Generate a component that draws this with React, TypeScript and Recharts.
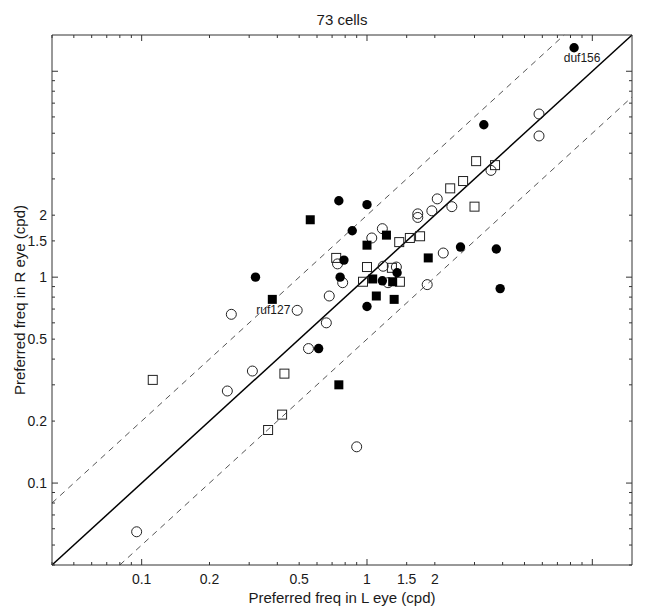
import React from 'react';
import { ScatterChart, Scatter, XAxis, YAxis, ReferenceLine } from 'recharts';

const AXIS_MIN = 0.04;
const AXIS_MAX = 15;
const AXIS_TICKS = [
  0.04, 0.05, 0.06, 0.07, 0.08, 0.09, 0.1, 0.2, 0.3, 0.4, 0.5, 0.6, 0.7, 0.8, 0.9,
  1, 1.5, 2, 3, 4, 5, 6, 7, 8, 9, 10,
];
const MAJOR_TICKS = [0.1, 1, 10];
const LABELLED_TICKS = [0.1, 0.2, 0.5, 1, 1.5, 2];

interface Cell {
  x: number;
  y: number;
  label?: string;
}

// preferred spatial frequency, L eye (x) vs R eye (y), cpd
const openCircles: Cell[] = [
  { x: 0.095, y: 0.058 }, { x: 0.25, y: 0.66 }, { x: 0.31, y: 0.35 }, { x: 0.24, y: 0.28 },
  { x: 0.49, y: 0.69 }, { x: 0.68, y: 0.81 }, { x: 0.66, y: 0.6 }, { x: 0.55, y: 0.45 },
  { x: 0.74, y: 1.16 }, { x: 0.78, y: 0.94 }, { x: 1.18, y: 1.13 }, { x: 1.35, y: 1.12 },
  { x: 1.24, y: 0.94 }, { x: 1.85, y: 0.92 }, { x: 0.9, y: 0.15 }, { x: 1.05, y: 1.55 },
  { x: 1.17, y: 1.72 }, { x: 1.68, y: 2.03 }, { x: 1.68, y: 1.95 }, { x: 1.94, y: 2.1 },
  { x: 2.05, y: 2.4 }, { x: 2.38, y: 2.2 }, { x: 2.18, y: 1.31 }, { x: 3.55, y: 3.3 },
  { x: 5.8, y: 6.2 }, { x: 5.8, y: 4.85 },
];

const filledCircles: Cell[] = [
  { x: 8.3, y: 13, label: 'duf156' }, { x: 3.3, y: 5.5 }, { x: 0.75, y: 2.35 },
  { x: 1.0, y: 2.25 }, { x: 0.86, y: 1.68 }, { x: 0.79, y: 1.21 }, { x: 0.32, y: 1.0 },
  { x: 0.76, y: 1.0 }, { x: 1.17, y: 0.96 }, { x: 1.36, y: 1.05 }, { x: 1.0, y: 0.72 },
  { x: 0.61, y: 0.45 }, { x: 2.6, y: 1.4 }, { x: 3.75, y: 1.37 }, { x: 3.9, y: 0.88 },
];

const openSquares: Cell[] = [
  { x: 0.112, y: 0.317 }, { x: 0.43, y: 0.34 }, { x: 0.42, y: 0.215 }, { x: 0.364, y: 0.181 },
  { x: 0.73, y: 1.24 }, { x: 1.0, y: 1.12 }, { x: 1.29, y: 1.11 }, { x: 0.96, y: 0.95 },
  { x: 1.4, y: 0.95 }, { x: 1.39, y: 1.48 }, { x: 1.55, y: 1.55 }, { x: 1.72, y: 1.58 },
  { x: 2.34, y: 2.7 }, { x: 2.67, y: 2.93 }, { x: 3.05, y: 3.66 }, { x: 3.7, y: 3.5 },
  { x: 3.0, y: 2.2 },
];

const filledSquares: Cell[] = [
  { x: 0.56, y: 1.9 }, { x: 1.22, y: 1.6 }, { x: 1.0, y: 1.43 }, { x: 1.87, y: 1.24 },
  { x: 1.06, y: 0.98 }, { x: 1.3, y: 0.95 }, { x: 0.38, y: 0.78, label: 'ruf127' },
  { x: 1.1, y: 0.81 }, { x: 1.32, y: 0.78 }, { x: 0.75, y: 0.3 },
];

// unity line and factor-of-two lines
const unityLine = [{ x: AXIS_MIN, y: AXIS_MIN }, { x: AXIS_MAX, y: AXIS_MAX }];
const upperLine = [{ x: AXIS_MIN, y: AXIS_MIN * 2 }, { x: AXIS_MAX / 2, y: AXIS_MAX }];
const lowerLine = [{ x: AXIS_MIN * 2, y: AXIS_MIN }, { x: AXIS_MAX, y: AXIS_MAX / 2 }];

const FONT = '"Liberation Sans", Arial, Helvetica, sans-serif';
const INK = '#1a1a1a';
const AXIS_COLOR = '#333';

const AxisTick = (props: any) => {
  const { x, y, payload, side } = props;
  const v = payload.value;
  const len = MAJOR_TICKS.includes(v) ? 6 : 3;
  const label = LABELLED_TICKS.includes(v) ? String(v) : null;
  let line: React.ReactNode = null;
  let text: React.ReactNode = null;

  if (side === 'bottom') {
    line = <line x1={x} y1={y} x2={x} y2={y - len} />;
    if (label) text = <text x={x} y={y + 19} textAnchor="middle">{label}</text>;
  } else if (side === 'top') {
    line = <line x1={x} y1={y} x2={x} y2={y + len} />;
  } else if (side === 'left') {
    line = <line x1={x} y1={y} x2={x + len} y2={y} />;
    if (label) text = <text x={x - 5} y={y + 5} textAnchor="end">{label}</text>;
  } else {
    line = <line x1={x} y1={y} x2={x - len} y2={y} />;
  }

  return (
    <g>
      <g stroke={AXIS_COLOR} strokeWidth={1}>{line}</g>
      {text && (
        <g fill={INK} fontSize={14} fontFamily={FONT}>
          {text}
        </g>
      )}
    </g>
  );
};

const CellLabel = ({ cx, cy, label, dx, dy }: any) =>
  label ? (
    <text x={cx + dx} y={cy + dy} textAnchor="middle" fontSize={12} fontFamily={FONT} fill={INK}>
      {label}
    </text>
  ) : null;

const OpenCircle = (p: any) => (
  <circle cx={p.cx} cy={p.cy} r={5} fill="none" stroke="#222" strokeWidth={1} />
);

const FilledCircle = (p: any) => (
  <g>
    <circle cx={p.cx} cy={p.cy} r={4.7} fill="#000" />
    <CellLabel cx={p.cx} cy={p.cy} label={p.payload?.label} dx={8} dy={14} />
  </g>
);

const OpenSquare = (p: any) => (
  <rect x={p.cx - 4.5} y={p.cy - 4.5} width={9} height={9} fill="none" stroke="#222" strokeWidth={1} />
);

const FilledSquare = (p: any) => (
  <g>
    <rect x={p.cx - 4.5} y={p.cy - 4.5} width={9} height={9} fill="#000" />
    <CellLabel cx={p.cx} cy={p.cy} label={p.payload?.label} dx={1} dy={15} />
  </g>
);

const axisCommon = {
  type: 'number' as const,
  scale: 'log' as const,
  domain: [AXIS_MIN, AXIS_MAX],
  allowDataOverflow: true,
  ticks: AXIS_TICKS,
  interval: 0 as const,
  tickSize: 0,
  tickMargin: 0,
  tickLine: false,
  axisLine: { stroke: AXIS_COLOR, strokeWidth: 1 },
};

export default function App() {
  return (
    <div style={{ position: 'absolute', left: 0, top: 0, width: 650, height: 610, background: '#fff', fontFamily: FONT }}>
      <div
        style={{
          position: 'absolute',
          left: 52,
          width: 580,
          top: 11,
          textAlign: 'center',
          fontSize: 15,
          lineHeight: '18px',
          color: INK,
        }}
      >
        73 cells
      </div>
      <ScatterChart width={650} height={610} margin={{ top: 0, right: 0, bottom: 0, left: 0 }} style={{ fontFamily: FONT }}>
        <XAxis
          {...axisCommon}
          xAxisId="b"
          dataKey="x"
          height={45}
          tick={(p: any) => <AxisTick {...p} side="bottom" />}
          label={{ value: 'Preferred freq in L eye (cpd)', position: 'insideBottom', offset: 7, fill: INK, fontSize: 15 }}
        />
        <XAxis
          {...axisCommon}
          xAxisId="t"
          orientation="top"
          dataKey="x"
          height={35}
          tick={(p: any) => <AxisTick {...p} side="top" />}
        />
        <YAxis
          {...axisCommon}
          yAxisId="l"
          dataKey="y"
          width={52}
          tick={(p: any) => <AxisTick {...p} side="left" />}
          label={{
            value: 'Preferred freq in R eye (cpd)',
            angle: -90,
            position: 'insideLeft',
            offset: 20,
            fill: INK,
            fontSize: 15,
            style: { textAnchor: 'middle' },
          }}
        />
        <YAxis
          {...axisCommon}
          yAxisId="r"
          orientation="right"
          dataKey="y"
          width={18}
          tick={(p: any) => <AxisTick {...p} side="right" />}
        />

        <ReferenceLine xAxisId="b" yAxisId="l" segment={upperLine} stroke="#555" strokeWidth={1} strokeDasharray="6 5" />
        <ReferenceLine xAxisId="b" yAxisId="l" segment={lowerLine} stroke="#555" strokeWidth={1} strokeDasharray="6 5" />
        <ReferenceLine xAxisId="b" yAxisId="l" segment={unityLine} stroke="#000" strokeWidth={1.5} />

        <Scatter xAxisId="b" yAxisId="l" data={openCircles} shape={OpenCircle} isAnimationActive={false} />
        <Scatter xAxisId="b" yAxisId="l" data={openSquares} shape={OpenSquare} isAnimationActive={false} />
        <Scatter xAxisId="b" yAxisId="l" data={filledCircles} shape={FilledCircle} isAnimationActive={false} />
        <Scatter xAxisId="b" yAxisId="l" data={filledSquares} shape={FilledSquare} isAnimationActive={false} />
      </ScatterChart>
    </div>
  );
}
